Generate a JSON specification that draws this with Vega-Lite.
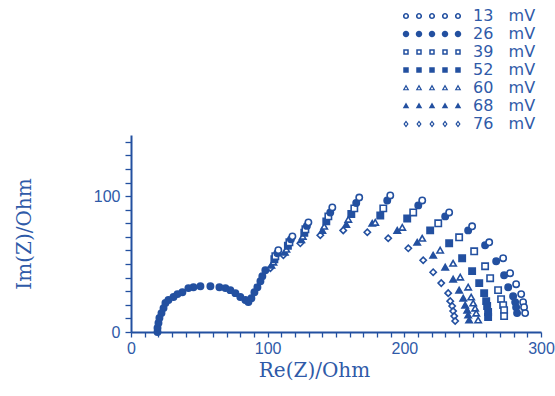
{
  "$schema": "https://vega.github.io/schema/vega-lite/v6.json",
  "width": 410,
  "height": 197,
  "autosize": {"type": "none"},
  "padding": {"left": 131, "top": 135, "right": 14, "bottom": 64},
  "background": "white",
  "config": {"view": {"stroke": null}},
  "data": {"values": [
    {"series": "26 mV", "re": 19.4, "im": 0.0},
    {"series": "26 mV", "re": 19.4, "im": 2.9},
    {"series": "26 mV", "re": 20.1, "im": 6.6},
    {"series": "26 mV", "re": 20.8, "im": 10.3},
    {"series": "26 mV", "re": 22.3, "im": 13.9},
    {"series": "26 mV", "re": 23.8, "im": 17.6},
    {"series": "26 mV", "re": 25.2, "im": 21.3},
    {"series": "26 mV", "re": 27.4, "im": 23.5},
    {"series": "26 mV", "re": 31.1, "im": 25.7},
    {"series": "26 mV", "re": 34.0, "im": 27.9},
    {"series": "26 mV", "re": 37.6, "im": 29.3},
    {"series": "26 mV", "re": 42.0, "im": 32.3},
    {"series": "26 mV", "re": 45.7, "im": 33.0},
    {"series": "26 mV", "re": 50.8, "im": 33.7},
    {"series": "26 mV", "re": 58.1, "im": 33.7},
    {"series": "26 mV", "re": 64.7, "im": 33.0},
    {"series": "26 mV", "re": 69.1, "im": 32.3},
    {"series": "26 mV", "re": 72.7, "im": 30.8},
    {"series": "26 mV", "re": 76.4, "im": 28.6},
    {"series": "26 mV", "re": 80.0, "im": 25.7},
    {"series": "26 mV", "re": 83.7, "im": 23.5},
    {"series": "26 mV", "re": 85.9, "im": 22.0},
    {"series": "26 mV", "re": 88.1, "im": 24.9},
    {"series": "26 mV", "re": 90.3, "im": 29.3},
    {"series": "26 mV", "re": 92.5, "im": 33.0},
    {"series": "26 mV", "re": 94.7, "im": 37.4},
    {"series": "26 mV", "re": 96.1, "im": 41.1},
    {"series": "26 mV", "re": 98.3, "im": 45.5},

    {"series": "76 mV", "re": 102.0, "im": 47.0},
    {"series": "76 mV", "re": 111.5, "im": 56.5},
    {"series": "76 mV", "re": 123.9, "im": 65.3},
    {"series": "76 mV", "re": 138.5, "im": 71.2},
    {"series": "76 mV", "re": 155.3, "im": 74.8},
    {"series": "76 mV", "re": 172.9, "im": 73.4},
    {"series": "76 mV", "re": 188.2, "im": 69.0},
    {"series": "76 mV", "re": 202.9, "im": 61.6},
    {"series": "76 mV", "re": 213.8, "im": 52.8},
    {"series": "76 mV", "re": 221.1, "im": 44.0},
    {"series": "76 mV", "re": 227.0, "im": 36.0},
    {"series": "76 mV", "re": 232.1, "im": 28.6},
    {"series": "76 mV", "re": 233.6, "im": 22.7},
    {"series": "76 mV", "re": 235.0, "im": 19.1},
    {"series": "76 mV", "re": 235.7, "im": 15.4},
    {"series": "76 mV", "re": 236.5, "im": 11.7},
    {"series": "76 mV", "re": 237.2, "im": 8.1},

    {"series": "68 mV", "re": 102.7, "im": 49.2},
    {"series": "68 mV", "re": 112.6, "im": 58.7},
    {"series": "68 mV", "re": 124.6, "im": 67.9},
    {"series": "68 mV", "re": 140.0, "im": 74.8},
    {"series": "68 mV", "re": 157.5, "im": 79.2},
    {"series": "68 mV", "re": 176.5, "im": 80.0},
    {"series": "68 mV", "re": 194.8, "im": 74.8},
    {"series": "68 mV", "re": 209.4, "im": 66.0},
    {"series": "68 mV", "re": 221.1, "im": 56.5},
    {"series": "68 mV", "re": 229.9, "im": 47.7},
    {"series": "68 mV", "re": 235.7, "im": 38.9},
    {"series": "68 mV", "re": 240.1, "im": 30.8},
    {"series": "68 mV", "re": 243.1, "im": 24.9},
    {"series": "68 mV", "re": 244.5, "im": 19.8},
    {"series": "68 mV", "re": 246.0, "im": 16.1},
    {"series": "68 mV", "re": 246.7, "im": 12.5},
    {"series": "68 mV", "re": 247.4, "im": 8.8},

    {"series": "60 mV", "re": 104.2, "im": 51.4},
    {"series": "60 mV", "re": 113.7, "im": 60.9},
    {"series": "60 mV", "re": 125.7, "im": 70.4},
    {"series": "60 mV", "re": 141.4, "im": 77.8},
    {"series": "60 mV", "re": 159.0, "im": 82.9},
    {"series": "60 mV", "re": 178.7, "im": 80.7},
    {"series": "60 mV", "re": 198.5, "im": 77.0},
    {"series": "60 mV", "re": 213.1, "im": 69.0},
    {"series": "60 mV", "re": 226.2, "im": 60.2},
    {"series": "60 mV", "re": 235.7, "im": 50.6},
    {"series": "60 mV", "re": 240.9, "im": 40.4},
    {"series": "60 mV", "re": 246.7, "im": 33.0},
    {"series": "60 mV", "re": 248.9, "im": 25.7},
    {"series": "60 mV", "re": 250.4, "im": 21.3},
    {"series": "60 mV", "re": 251.8, "im": 17.6},
    {"series": "60 mV", "re": 252.6, "im": 13.9},
    {"series": "60 mV", "re": 254.0, "im": 8.8},

    {"series": "52 mV", "re": 104.9, "im": 53.6},
    {"series": "52 mV", "re": 114.8, "im": 63.5},
    {"series": "52 mV", "re": 126.8, "im": 73.0},
    {"series": "52 mV", "re": 142.9, "im": 81.4},
    {"series": "52 mV", "re": 161.2, "im": 86.9},
    {"series": "52 mV", "re": 182.4, "im": 85.8},
    {"series": "52 mV", "re": 202.1, "im": 83.6},
    {"series": "52 mV", "re": 218.9, "im": 74.8},
    {"series": "52 mV", "re": 232.8, "im": 65.3},
    {"series": "52 mV", "re": 242.3, "im": 54.3},
    {"series": "52 mV", "re": 249.6, "im": 44.8},
    {"series": "52 mV", "re": 254.8, "im": 36.0},
    {"series": "52 mV", "re": 258.4, "im": 28.6},
    {"series": "52 mV", "re": 259.9, "im": 22.7},
    {"series": "52 mV", "re": 260.6, "im": 19.1},
    {"series": "52 mV", "re": 261.3, "im": 14.7},
    {"series": "52 mV", "re": 261.3, "im": 11.0},

    {"series": "39 mV", "re": 105.6, "im": 55.8},
    {"series": "39 mV", "re": 115.9, "im": 66.0},
    {"series": "39 mV", "re": 127.6, "im": 75.6},
    {"series": "39 mV", "re": 144.4, "im": 85.1},
    {"series": "39 mV", "re": 163.4, "im": 91.0},
    {"series": "39 mV", "re": 184.6, "im": 91.0},
    {"series": "39 mV", "re": 206.5, "im": 88.0},
    {"series": "39 mV", "re": 224.8, "im": 80.0},
    {"series": "39 mV", "re": 240.1, "im": 69.7},
    {"series": "39 mV", "re": 251.1, "im": 59.4},
    {"series": "39 mV", "re": 259.1, "im": 48.4},
    {"series": "39 mV", "re": 262.8, "im": 39.6},
    {"series": "39 mV", "re": 268.6, "im": 30.8},
    {"series": "39 mV", "re": 270.8, "im": 24.2},
    {"series": "39 mV", "re": 272.3, "im": 19.8},
    {"series": "39 mV", "re": 273.0, "im": 16.1},
    {"series": "39 mV", "re": 273.0, "im": 11.7},

    {"series": "26 mV", "re": 107.1, "im": 58.0},
    {"series": "26 mV", "re": 117.0, "im": 68.2},
    {"series": "26 mV", "re": 128.7, "im": 78.1},
    {"series": "26 mV", "re": 145.8, "im": 88.0},
    {"series": "26 mV", "re": 164.8, "im": 95.0},
    {"series": "26 mV", "re": 187.5, "im": 96.8},
    {"series": "26 mV", "re": 210.2, "im": 93.2},
    {"series": "26 mV", "re": 229.9, "im": 85.1},
    {"series": "26 mV", "re": 246.7, "im": 74.8},
    {"series": "26 mV", "re": 259.1, "im": 63.8},
    {"series": "26 mV", "re": 267.2, "im": 52.1},
    {"series": "26 mV", "re": 273.0, "im": 41.8},
    {"series": "26 mV", "re": 276.0, "im": 33.0},
    {"series": "26 mV", "re": 279.6, "im": 26.4},
    {"series": "26 mV", "re": 281.1, "im": 22.0},
    {"series": "26 mV", "re": 281.8, "im": 18.3},
    {"series": "26 mV", "re": 282.5, "im": 13.9},

    {"series": "13 mV", "re": 107.8, "im": 60.2},
    {"series": "13 mV", "re": 118.1, "im": 70.4},
    {"series": "13 mV", "re": 129.8, "im": 80.7},
    {"series": "13 mV", "re": 147.3, "im": 91.7},
    {"series": "13 mV", "re": 167.0, "im": 99.0},
    {"series": "13 mV", "re": 189.7, "im": 100.5},
    {"series": "13 mV", "re": 213.1, "im": 96.8},
    {"series": "13 mV", "re": 232.8, "im": 88.0},
    {"series": "13 mV", "re": 249.6, "im": 77.8},
    {"series": "13 mV", "re": 262.1, "im": 66.0},
    {"series": "13 mV", "re": 272.3, "im": 54.3},
    {"series": "13 mV", "re": 277.4, "im": 43.3},
    {"series": "13 mV", "re": 281.8, "im": 35.2},
    {"series": "13 mV", "re": 285.5, "im": 27.9},
    {"series": "13 mV", "re": 286.9, "im": 22.0},
    {"series": "13 mV", "re": 287.6, "im": 18.3},
    {"series": "13 mV", "re": 288.4, "im": 13.9}
  ]},
  "encoding": {
    "x": {
      "field": "re", "type": "quantitative",
      "scale": {"domain": [0, 300], "nice": false, "zero": false},
      "axis": {
        "title": "Re(Z)/Ohm",
        "values": [0,10,20,30,40,50,60,70,80,90,100,110,120,130,140,150,160,170,180,190,200,210,220,230,240,250,260,270,280,290,300],
        "labelExpr": "datum.value % 100 === 0 ? datum.label : ''",
        "labelOverlap": false, "labelFlush": false,
        "grid": false,
        "domainColor": "#2350a0", "domainWidth": 2,
        "tickColor": "#2350a0", "tickWidth": 1.3, "tickSize": 5,
        "labelColor": "#2f5aa8", "labelFont": "Liberation Sans", "labelFontSize": 16, "labelPadding": 3,
        "titleColor": "#2f5aa8", "titleFont": "DejaVu Serif", "titleFontSize": 20, "titleFontWeight": "normal",
        "titlePadding": 4, "titleX": 183
      }
    },
    "y": {
      "field": "im", "type": "quantitative",
      "scale": {"domain": [0, 145], "nice": false, "zero": false},
      "axis": {
        "title": "Im(Z)/Ohm",
        "values": [0,10,20,30,40,50,60,70,80,90,100,110,120,130,140],
        "labelExpr": "datum.value % 100 === 0 ? datum.label : ''",
        "labelOverlap": false, "labelFlush": false,
        "grid": false,
        "domainColor": "#2350a0", "domainWidth": 2,
        "tickColor": "#2350a0", "tickWidth": 1.3, "tickSize": 6,
        "labelColor": "#2f5aa8", "labelFont": "Liberation Sans", "labelFontSize": 16, "labelPadding": 5,
        "titleColor": "#2f5aa8", "titleFont": "DejaVu Serif", "titleFontSize": 20, "titleFontWeight": "normal",
        "titlePadding": 59
      }
    }
  },
  "layer": [
    {
      "mark": {"type": "point", "filled": true, "size": 40, "stroke": "#2350a0", "strokeWidth": 1.6, "opacity": 1},
      "encoding": {
        "shape": {
          "field": "series", "type": "nominal",
          "scale": {"domain": ["13 mV","26 mV","39 mV","52 mV","60 mV","68 mV","76 mV"],
                    "range": ["circle","circle","square","square","triangle-up","triangle-up","diamond"]},
          "legend": null
        },
        "fill": {
          "field": "series", "type": "nominal",
          "scale": {"domain": ["13 mV","26 mV","39 mV","52 mV","60 mV","68 mV","76 mV"],
                    "range": ["#ffffff","#2350a0","#ffffff","#2350a0","#ffffff","#2350a0","#ffffff"]},
          "legend": null
        }
      }
    },
    {
      "mark": {"type": "point", "filled": true, "color": "#2350a0", "size": 100, "strokeWidth": 0, "opacity": 0},
      "encoding": {
        "shape": {
          "field": "series", "type": "nominal",
          "scale": {"domain": ["13 mV","26 mV","39 mV","52 mV","60 mV","68 mV","76 mV"],
                    "range": [
                      "M-11.02,0a0.62,0.62 0 1,0 1.24,0a0.62,0.62 0 1,0 -1.24,0ZM-10.7,0a0.3,0.3 0 1,1 0.6,0a0.3,0.3 0 1,1 -0.6,0ZM-8.42,0a0.62,0.62 0 1,0 1.24,0a0.62,0.62 0 1,0 -1.24,0ZM-8.1,0a0.3,0.3 0 1,1 0.6,0a0.3,0.3 0 1,1 -0.6,0ZM-5.82,0a0.62,0.62 0 1,0 1.24,0a0.62,0.62 0 1,0 -1.24,0ZM-5.5,0a0.3,0.3 0 1,1 0.6,0a0.3,0.3 0 1,1 -0.6,0ZM-3.22,0a0.62,0.62 0 1,0 1.24,0a0.62,0.62 0 1,0 -1.24,0ZM-2.9,0a0.3,0.3 0 1,1 0.6,0a0.3,0.3 0 1,1 -0.6,0ZM-0.62,0a0.62,0.62 0 1,0 1.24,0a0.62,0.62 0 1,0 -1.24,0ZM-0.3,0a0.3,0.3 0 1,1 0.6,0a0.3,0.3 0 1,1 -0.6,0Z",
                      "M-11.05,0a0.65,0.65 0 1,0 1.3,0a0.65,0.65 0 1,0 -1.3,0ZM-8.45,0a0.65,0.65 0 1,0 1.3,0a0.65,0.65 0 1,0 -1.3,0ZM-5.85,0a0.65,0.65 0 1,0 1.3,0a0.65,0.65 0 1,0 -1.3,0ZM-3.25,0a0.65,0.65 0 1,0 1.3,0a0.65,0.65 0 1,0 -1.3,0ZM-0.65,0a0.65,0.65 0 1,0 1.3,0a0.65,0.65 0 1,0 -1.3,0Z",
                      "M-10.95,-0.55h1.1v1.1h-1.1ZM-10.65,-0.25v0.5h0.5v-0.5ZM-8.35,-0.55h1.1v1.1h-1.1ZM-8.05,-0.25v0.5h0.5v-0.5ZM-5.75,-0.55h1.1v1.1h-1.1ZM-5.45,-0.25v0.5h0.5v-0.5ZM-3.15,-0.55h1.1v1.1h-1.1ZM-2.85,-0.25v0.5h0.5v-0.5ZM-0.55,-0.55h1.1v1.1h-1.1ZM-0.25,-0.25v0.5h0.5v-0.5Z",
                      "M-10.95,-0.55h1.1v1.1h-1.1ZM-8.35,-0.55h1.1v1.1h-1.1ZM-5.75,-0.55h1.1v1.1h-1.1ZM-3.15,-0.55h1.1v1.1h-1.1ZM-0.55,-0.55h1.1v1.1h-1.1Z",
                      "M-10.4,-0.68l0.65,1.15h-1.3ZM-10.4,-0.22l-0.26,0.46h0.52ZM-7.8,-0.68l0.65,1.15h-1.3ZM-7.8,-0.22l-0.26,0.46h0.52ZM-5.2,-0.68l0.65,1.15h-1.3ZM-5.2,-0.22l-0.26,0.46h0.52ZM-2.6,-0.68l0.65,1.15h-1.3ZM-2.6,-0.22l-0.26,0.46h0.52ZM0,-0.68l0.65,1.15h-1.3ZM0,-0.22l-0.26,0.46h0.52Z",
                      "M-10.4,-0.68l0.65,1.15h-1.3ZM-7.8,-0.68l0.65,1.15h-1.3ZM-5.2,-0.68l0.65,1.15h-1.3ZM-2.6,-0.68l0.65,1.15h-1.3ZM0,-0.68l0.65,1.15h-1.3Z",
                      "M-10.4,-0.7l0.52,0.7l-0.52,0.7l-0.52,-0.7ZM-10.4,-0.315l-0.234,0.315l0.234,0.315l0.234,-0.315ZM-7.8,-0.7l0.52,0.7l-0.52,0.7l-0.52,-0.7ZM-7.8,-0.315l-0.234,0.315l0.234,0.315l0.234,-0.315ZM-5.2,-0.7l0.52,0.7l-0.52,0.7l-0.52,-0.7ZM-5.2,-0.315l-0.234,0.315l0.234,0.315l0.234,-0.315ZM-2.6,-0.7l0.52,0.7l-0.52,0.7l-0.52,-0.7ZM-2.6,-0.315l-0.234,0.315l0.234,0.315l0.234,-0.315ZM0,-0.7l0.52,0.7l-0.52,0.7l-0.52,-0.7ZM0,-0.315l-0.234,0.315l0.234,0.315l0.234,-0.315Z"
                    ]},
          "legend": {"title": null, "orient": "none", "legendX": 319, "legendY": -127,
                     "labelExpr": "replace(datum.label, ' ', '\u00a0\u00a0\u00a0')",
                     "labelFont": "DejaVu Sans", "labelFontSize": 16, "labelColor": "#2f5aa8",
                     "symbolSize": 100, "symbolOpacity": 1, "symbolStrokeWidth": 0,
                     "symbolFillColor": "#2350a0",
                     "rowPadding": 2, "labelOffset": 7}
        }
      }
    }
  ],
  "resolve": {"scale": {"shape": "independent"}, "legend": {"shape": "independent"}}
}
